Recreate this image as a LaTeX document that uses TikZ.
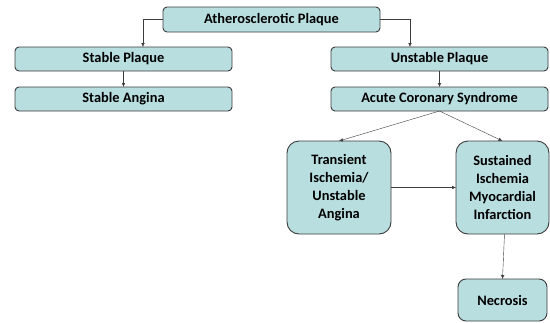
\documentclass[tikz,border=0pt]{standalone}
\usepackage{fontspec}
\setmainfont{Carlito}
\usepackage{tikz}
\usetikzlibrary{positioning}
\usetikzlibrary{arrows.meta}

\definecolor{plaquefill}{RGB}{185,222,224}
\definecolor{plaqueline}{RGB}{60,60,60}

\begin{document}
\begin{tikzpicture}[x=1pt, y=1pt, >={Latex[length=4pt,width=3.5pt]},
    box/.style={rectangle, rounded corners=4pt, minimum width=217pt, minimum height=24pt, inner sep=0pt, outer sep=0pt, draw=plaqueline, line width=0.9pt, fill=plaquefill, font=\fontsize{14.4}{17.8}\selectfont\bfseries},
    bigbox/.style={box, rounded corners=12pt, minimum width=104pt, minimum height=93pt, align=center}]
    \useasboundingbox (0,0) rectangle (550,-322);

    \node (ath) [box, minimum height=25pt] at (271.5,-19.5) {Atherosclerotic Plaque};
    \node (stable) [box] at (123.5,-59) {Stable Plaque};
    \node (unstable) [box, right=99pt of stable] {Unstable Plaque};
    \node (angina) [box, below=16pt of stable] {Stable Angina};
    \node (acs) [box, below=16pt of unstable] {Acute Coronary Syndrome};

    \node (transient) [bigbox] at (339,-187.5) {Transient\\Ischemia/\\Unstable\\Angina};
    \node (sustained) [bigbox, minimum width=93pt, right=65pt of transient] {Sustained\\Ischemia\\Myocardial\\Infarction};
    \node (necrosis) [box, rounded corners=8pt, minimum width=89pt, minimum height=42pt, below=45pt of sustained] {Necrosis};

    \draw [->, plaqueline] (ath.west) -| ([xshift=19.5pt]stable.north);
    \draw [->, plaqueline] (ath.east) -| ([xshift=-29.5pt]unstable.north);
    \draw [->, plaqueline] (stable) -- (angina);
    \draw [->, plaqueline] (unstable) -- (acs);

    \draw [->, plaqueline] (acs.south) -- (transient.north);
    \draw [->, plaqueline] (acs.south) -- (sustained.north);
    \draw [->, plaqueline] (transient) -- (sustained);
    \draw [->, plaqueline] ([xshift=2pt]sustained.south) -- (necrosis.north);
\end{tikzpicture}
\end{document}
